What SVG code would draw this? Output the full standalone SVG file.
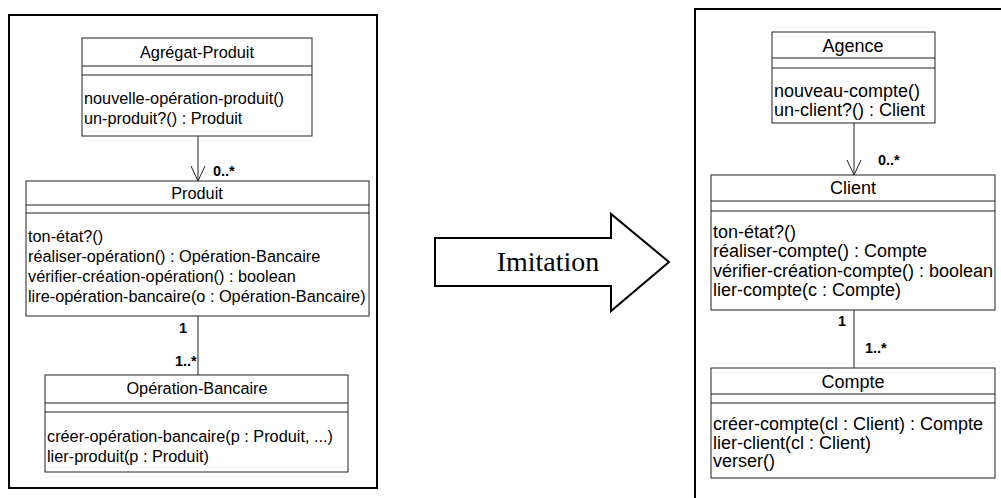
<svg xmlns="http://www.w3.org/2000/svg" width="1001" height="498" viewBox="0 0 1001 498">
<style>
.frame{fill:none;stroke:#000;stroke-width:2}
.box{fill:#fff;stroke:#222;stroke-width:1}
.div{stroke:#222;stroke-width:1}
.t{font-family:"Liberation Sans",Arial,sans-serif;font-size:16.3px;fill:#000}
.r{font-size:18px}
.c{text-anchor:middle}
.m{font-family:"Liberation Sans",Arial,sans-serif;font-size:14.5px;font-weight:bold;fill:#000}
.conn{fill:none;stroke:#222;stroke-width:1}
</style>
<rect x="0" y="0" width="1001" height="498" fill="#fff"/>
<rect class="frame" x="9" y="15" width="368" height="473"/>
<path class="frame" d="M695,498 V9 H1001"/>
<g id="imitation">
<polygon points="435,238 611,238 611,214 669,262 611,311 611,286 435,286" fill="#fff" stroke="#000" stroke-width="2"/>
<text x="548" y="271" font-family="'Liberation Serif','Times New Roman',serif" font-size="28" text-anchor="middle">Imitation</text>
</g>
<g id="connectors">
<path class="conn" d="M198,136 V181 M191,166 L198,181 L205,166"/>
<text class="m" x="213" y="176">0..*</text>
<path class="conn" d="M198,316 V375"/>
<text class="m" x="179" y="333">1</text>
<text class="m" x="175" y="366">1..*</text>
<path class="conn" d="M854,123 V175 M847,160 L854,175 L861,160"/>
<text class="m" x="878" y="165">0..*</text>
<path class="conn" d="M854,310 V368"/>
<text class="m" x="838" y="326">1</text>
<text class="m" x="865" y="353">1..*</text>
</g>
<g id="agregat-produit">
<rect class="box" x="82" y="38" width="230" height="98"/>
<line class="div" x1="82" y1="66" x2="312" y2="66"/>
<line class="div" x1="82" y1="75" x2="312" y2="75"/>
<text class="t c" x="197" y="58">Agrégat-Produit</text>
<text class="t" x="84" y="104">nouvelle-opération-produit()</text>
<text class="t" x="84" y="124">un-produit?() : Produit</text>
</g>
<g id="produit">
<rect class="box" x="26" y="181" width="343" height="135"/>
<line class="div" x1="26" y1="205" x2="369" y2="205"/>
<line class="div" x1="26" y1="213" x2="369" y2="213"/>
<text class="t c" x="197" y="199">Produit</text>
<text class="t" x="28" y="242">ton-état?()</text>
<text class="t" x="28" y="262">réaliser-opération() : Opération-Bancaire</text>
<text class="t" x="28" y="282">vérifier-création-opération() : boolean</text>
<text class="t" x="28" y="302">lire-opération-bancaire(o : Opération-Bancaire)</text>
</g>
<g id="operation-bancaire">
<rect class="box" x="45" y="375" width="303" height="97"/>
<line class="div" x1="45" y1="403" x2="348" y2="403"/>
<line class="div" x1="45" y1="412" x2="348" y2="412"/>
<text class="t c" x="197" y="394">Opération-Bancaire</text>
<text class="t" x="47" y="442">créer-opération-bancaire(p : Produit, ...)</text>
<text class="t" x="47" y="462">lier-produit(p : Produit)</text>
</g>
<g id="agence">
<rect class="box" x="772" y="32" width="163" height="91"/>
<line class="div" x1="772" y1="58" x2="935" y2="58"/>
<line class="div" x1="772" y1="68" x2="935" y2="68"/>
<text class="t r c" x="853" y="52">Agence</text>
<text class="t r" x="774" y="97">nouveau-compte()</text>
<text class="t r" x="774" y="116">un-client?() : Client</text>
</g>
<g id="client">
<rect class="box" x="711" y="175" width="284" height="135"/>
<line class="div" x1="711" y1="201" x2="995" y2="201"/>
<line class="div" x1="711" y1="211" x2="995" y2="211"/>
<text class="t r c" x="853" y="194">Client</text>
<text class="t r" x="713" y="238">ton-état?()</text>
<text class="t r" x="713" y="257">réaliser-compte() : Compte</text>
<text class="t r" x="713" y="277">vérifier-création-compte() : boolean</text>
<text class="t r" x="713" y="296">lier-compte(c : Compte)</text>
</g>
<g id="compte">
<rect class="box" x="711" y="368" width="284" height="110"/>
<line class="div" x1="711" y1="394" x2="995" y2="394"/>
<line class="div" x1="711" y1="403" x2="995" y2="403"/>
<text class="t r c" x="853" y="388">Compte</text>
<text class="t r" x="713" y="430">créer-compte(cl : Client) : Compte</text>
<text class="t r" x="713" y="449">lier-client(cl : Client)</text>
<text class="t r" x="713" y="467">verser()</text>
</g>
</svg>
